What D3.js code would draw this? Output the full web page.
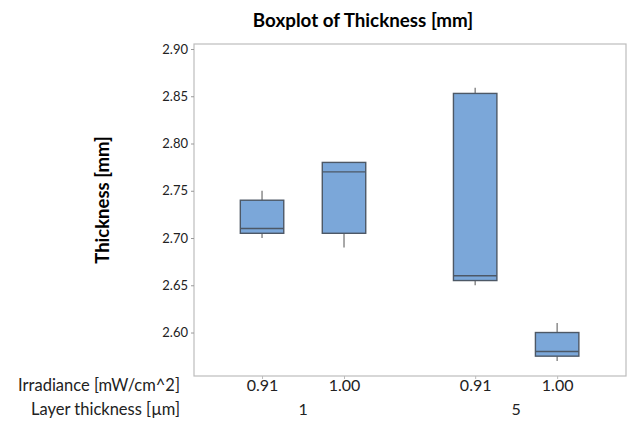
<!DOCTYPE html>
<html><head><meta charset="utf-8">
<script src="https://cdn.jsdelivr.net/npm/d3@7"></script>
<style>body{margin:0;background:#fff;} svg{display:block;font-family:Lato,"Open Sans",sans-serif;}</style>
</head><body><div id="chart"></div>
<script>
const layerGroups = ["1", "5"];
const irradiance = ["0.91", "1.00", "0.91", "1.00"];
const groupIndex = [0, 0, 1, 1];
const levelIndex = [0, 1, 0, 1];
const whiskerLow = [2.700, 2.690, 2.650, 2.570];
const q1 = [2.705, 2.705, 2.655, 2.575];
const median = [2.710, 2.770, 2.660, 2.580];
const q3 = [2.740, 2.780, 2.853, 2.600];
const whiskerHigh = [2.750, 2.780, 2.859, 2.610];
const yTicks = [2.60, 2.65, 2.70, 2.75, 2.80, 2.85, 2.90];

const W = 630, H = 423;
const m = {left: 194, right: 4, top: 44, bottom: 47};
const svg = d3.select("#chart").append("svg").attr("width", W).attr("height", H);

const y = d3.scaleLinear().domain([2.554, 2.9053]).range([H - m.bottom, m.top]);
const groupGap = 2.6;
const pos = groupIndex.map((g, i) => g * groupGap + levelIndex[i]);
const x = d3.scaleLinear().domain([-0.83, 4.44]).range([m.left, W - m.right]);
const boxW = (x(1) - x(0)) * 0.53;

// frame
svg.append("rect").attr("x", m.left).attr("y", m.top)
  .attr("width", W - m.right - m.left).attr("height", H - m.bottom - m.top)
  .attr("fill", "none").attr("stroke", "#bdbdbd").attr("stroke-width", 1.2);

// y axis
const yAxis = d3.axisLeft(y).tickValues(yTicks).tickFormat(d3.format(".2f")).tickSize(3).tickPadding(3);
const ga = svg.append("g").attr("transform", `translate(${m.left},0)`).call(yAxis);
ga.select(".domain").remove();
ga.selectAll(".tick line").attr("stroke", "#999");
ga.selectAll(".tick text").attr("fill", "#222").style("font-size", "13px").style("font-family", "Lato,'Open Sans',sans-serif");

// x ticks
const xAxis = d3.axisBottom(x).tickValues(pos).tickFormat((d, i) => irradiance[i]).tickSize(3).tickPadding(1);
const gx = svg.append("g").attr("transform", `translate(0,${H - m.bottom})`).call(xAxis);
gx.select(".domain").remove();
gx.selectAll(".tick line").attr("stroke", "#bbb");
gx.selectAll(".tick text").attr("fill", "#222").style("font-size", "16px").style("font-family", "Lato,'Open Sans',sans-serif");

// group labels
layerGroups.forEach((g, gi) => {
  const ps = pos.filter((p, i) => groupIndex[i] === gi);
  svg.append("text").attr("x", x(d3.mean(ps))).attr("y", 415)
    .attr("text-anchor", "middle").attr("font-size", 16).attr("fill", "#222").text(g);
});
svg.append("text").attr("x", 180).attr("y", 391).attr("text-anchor", "end")
  .attr("font-size", 16.5).attr("fill", "#222").text("Irradiance [mW/cm^2]");
svg.append("text").attr("x", 180).attr("y", 415).attr("text-anchor", "end")
  .attr("font-size", 16.5).attr("fill", "#222").text("Layer thickness [µm]");

// boxes
const boxes = svg.append("g");
pos.forEach((p, i) => {
  const cx = x(p);
  boxes.append("line").attr("x1", cx).attr("x2", cx).attr("y1", y(whiskerHigh[i])).attr("y2", y(q3[i]))
    .attr("stroke", "#7a7a7a").attr("stroke-width", 1.3);
  boxes.append("line").attr("x1", cx).attr("x2", cx).attr("y1", y(q1[i])).attr("y2", y(whiskerLow[i]))
    .attr("stroke", "#7a7a7a").attr("stroke-width", 1.3);
  boxes.append("rect").attr("x", cx - boxW / 2).attr("y", y(q3[i]))
    .attr("width", boxW).attr("height", y(q1[i]) - y(q3[i]))
    .attr("fill", "#7ba7d9").attr("stroke", "#4d5866").attr("stroke-width", 1.4);
  boxes.append("line").attr("x1", cx - boxW / 2).attr("x2", cx + boxW / 2)
    .attr("y1", y(median[i])).attr("y2", y(median[i]))
    .attr("stroke", "#4d5866").attr("stroke-width", 1.4);
});

// titles
svg.append("text").attr("x", 363).attr("y", 27).attr("text-anchor", "middle")
  .attr("font-size", 18.8).attr("font-weight", "bold").attr("fill", "#000").text("Boxplot of Thickness [mm]");
svg.append("text").attr("transform", "translate(109,200) rotate(-90)").attr("text-anchor", "middle")
  .attr("font-size", 18.5).attr("font-weight", "bold").attr("fill", "#000").text("Thickness [mm]");
</script></body></html>
